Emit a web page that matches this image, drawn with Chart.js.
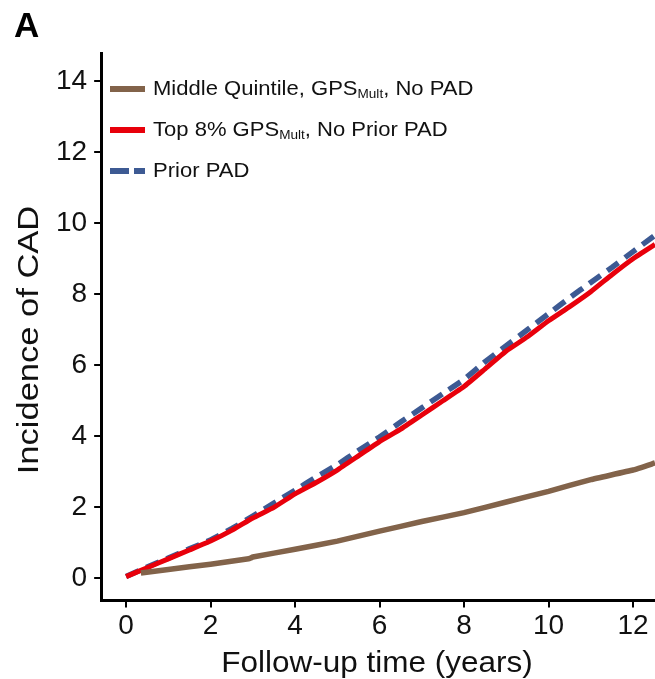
<!DOCTYPE html>
<html>
<head>
<meta charset="utf-8">
<script src="https://cdn.jsdelivr.net/npm/chart.js@4/dist/chart.umd.min.js"></script>
<style>
  body { margin: 0; background: #fff; }
  #wrap { position: relative; width: 655px; height: 679px; overflow: hidden; font-family: "Liberation Sans", Arial, sans-serif; color: #111; }
  #panel { position: absolute; left: 14px; top: 5px; font-size: 35px; font-weight: bold; color: #000; }
  .title { position: absolute; font-size: 30px; line-height: 30px; white-space: nowrap; }
  #xtitle { left: 377px; top: 647px; transform: translateX(-50%) scaleX(1.05); }
  #ytitle { left: 28px; top: 340px; transform: translate(-50%, -50%) rotate(-90deg) scaleX(1.15); }
  #legend { position: absolute; left: 110px; top: 68px; font-size: 19.5px; }
  .item { display: flex; align-items: center; height: 41px; }
  .key { flex: none; width: 35px; height: 6px; margin-right: 8px; }
  .dash { background: linear-gradient(90deg, #3d5a93 0 19px, transparent 19px 24px, #3d5a93 24px 35px); }
  .lab { transform: scaleX(1.13); transform-origin: left center; white-space: nowrap; }
  sub { font-size: 12px; vertical-align: -3px; }
</style>
</head>
<body>
<div id="wrap">
  <canvas id="km" width="655" height="679"></canvas>
  <div id="panel">A</div>
  <div class="title" id="xtitle">Follow-up time (years)</div>
  <div class="title" id="ytitle">Incidence of CAD</div>
  <div id="legend">
    <div class="item"><span class="key" style="background:#82634a"></span><span class="lab">Middle Quintile, GPS<sub>Mult</sub>, No PAD</span></div>
    <div class="item"><span class="key" style="background:#e8000b"></span><span class="lab">Top 8% GPS<sub>Mult</sub>, No Prior PAD</span></div>
    <div class="item"><span class="key dash"></span><span class="lab">Prior PAD</span></div>
  </div>
</div>
<script>
// follow-up years and cumulative incidence (%) per group
const years = [0, 0.5, 1, 1.5, 2, 2.5, 3, 3.5, 4, 4.5, 5, 5.5, 6, 6.5, 7, 7.5, 8, 8.5, 9, 9.5, 10, 10.5, 11, 11.5, 12, 12.52];
const topPrs = [0.05, 0.3, 0.55, 0.8, 1.05, 1.35, 1.7, 2.0, 2.38, 2.7, 3.05, 3.45, 3.85, 4.2, 4.6, 5.0, 5.4, 5.9, 6.4, 6.8, 7.25, 7.65, 8.07, 8.55, 9.0, 9.4];
const priorPad = [0.05, 0.32, 0.57, 0.83, 1.08, 1.4, 1.75, 2.12, 2.48, 2.85, 3.2, 3.6, 3.98, 4.4, 4.8, 5.2, 5.6, 6.1, 6.55, 7.0, 7.45, 7.9, 8.33, 8.75, 9.2, 9.66];
const midYears = [0.35, 1, 2, 2.9, 3, 4, 5, 6, 7, 8, 9, 10, 11, 12, 12.52];
const midPrs = [0.15, 0.25, 0.4, 0.55, 0.6, 0.82, 1.05, 1.33, 1.6, 1.85, 2.15, 2.45, 2.78, 3.05, 3.25];
const yTicks = [0, 2, 4, 6, 8, 10, 12, 14];

const xy = (xs, ys) => xs.map((x, i) => ({ x: x, y: ys[i] }));
const tickFont = { family: '"Liberation Sans", Arial, sans-serif', size: 28 };

new Chart(document.getElementById("km"), {
  type: "line",
  data: {
    datasets: [
      { data: xy(midYears, midPrs), borderColor: "#82634a", borderWidth: 5.5 },
      { data: xy(years, topPrs), borderColor: "#e8000b", borderWidth: 5 },
      { data: xy(years, priorPad), borderColor: "#3d5a93", borderWidth: 5.5, borderDash: [14, 8] }
    ]
  },
  options: {
    responsive: false,
    animation: false,
    elements: { point: { radius: 0 }, line: { tension: 0.1 } },
    // axis titles are html overlays, so leave room for them here
    layout: { padding: { left: 49, top: 53, right: 0, bottom: 34 } },
    plugins: { legend: { display: false }, tooltip: { enabled: false } },
    scales: {
      x: {
        type: "linear", min: -0.59, max: 12.52,
        border: { color: "#000", width: 3 },
        grid: { drawOnChartArea: false, color: "#000", lineWidth: 2, tickLength: 7 },
        ticks: { stepSize: 2, includeBounds: false, color: "#111", font: tickFont, padding: 2, maxRotation: 0 }
      },
      y: {
        min: -0.62, max: 14.79,
        border: { color: "#000", width: 3 },
        grid: { drawOnChartArea: false, color: "#000", lineWidth: 2, tickLength: 7 },
        afterBuildTicks: axis => { axis.ticks = yTicks.map(v => ({ value: v })); },
        ticks: { color: "#111", font: tickFont, padding: 7 }
      }
    }
  }
});
</script>
</body>
</html>
